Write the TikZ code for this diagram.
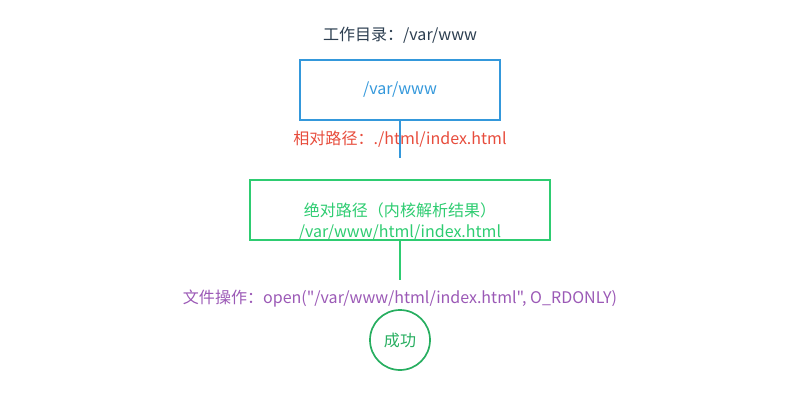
\documentclass[tikz,border=0pt]{standalone}
\usepackage{fontspec}
\newfontfamily\cjkfont{Noto Sans CJK SC}
\definecolor{titlegray}{RGB}{44, 62, 80}
\definecolor{pathblue}{RGB}{52, 152, 219}
\definecolor{pathred}{RGB}{231, 76, 60}
\definecolor{pathgreen}{RGB}{46, 204, 113}
\definecolor{okgreen}{RGB}{39, 174, 96}
\definecolor{oppurple}{RGB}{155, 89, 182}
\usetikzlibrary{positioning}

\begin{document}
\begin{tikzpicture}[x=0.025cm, y=-0.025cm,
    every node/.style={font=\cjkfont\fontsize{11.4}{13.5}\selectfont},
    pathbox/.style={draw, line width=1.2pt, minimum width=5cm, minimum height=1.5cm}]
    \useasboundingbox (0,0) rectangle (800,400);

    % Title
    \node[titlegray] (title) at (400,35) {工作目录：/var/www};

    % Working directory
    \node[pathbox, pathblue, text=pathblue] (cwd) at (400,90) {/var/www};
    \node[pathred] (rel) at (400,139) {相对路径：./html/index.html};
    \coordinate (relend) at (400,158);
    \draw[pathblue, line width=1.2pt] (cwd.south) -- (relend);

    % Absolute path
    \node[pathbox, pathgreen, minimum width=7.5cm] (abs) at (400,210) {};
    \node[pathgreen] (abstitle) at (400,210) {绝对路径（内核解析结果）};
    \node[pathgreen] (absname) at (400,233) {/var/www/html/index.html};
    \coordinate (absend) at (400,280);
    \draw[pathgreen, line width=1.2pt] (abs.south) -- (absend);

    % File operation
    \node[oppurple] (op) at (400,299) {文件操作：open("/var/www/html/index.html", O\_RDONLY)};
    \node[draw, circle, okgreen, line width=1.2pt, minimum size=1.5cm] (ok) at (400,340) {成功};
\end{tikzpicture}
\end{document}
